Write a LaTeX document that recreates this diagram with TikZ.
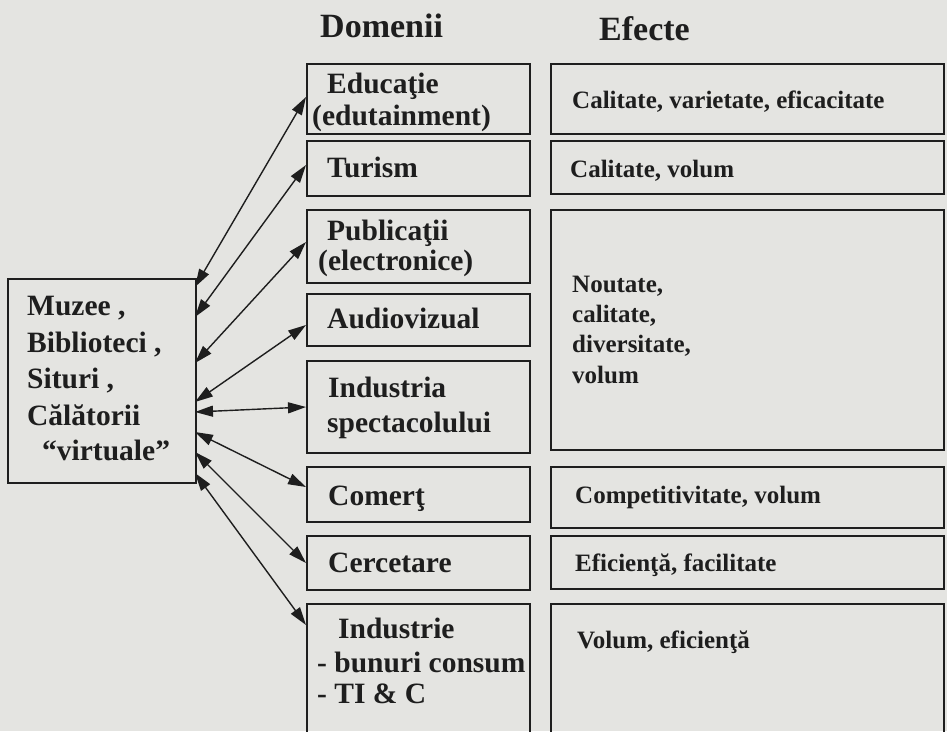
\documentclass[tikz,border=0pt]{standalone}
\usepackage{fontspec}
\setmainfont{Liberation Serif}
\usetikzlibrary{arrows.meta}
\definecolor{paper}{RGB}{228,228,225}
\definecolor{ink}{RGB}{30,30,30}
\begin{document}
\begin{tikzpicture}[x=1pt,y=-1pt,
  box/.style={draw=ink, line width=1.6pt, inner sep=0pt, anchor=north west},
  ttl/.style={anchor=base west, inner sep=0pt, text=ink, font=\bfseries\fontsize{34}{38}\selectfont},
  lft/.style={anchor=base west, inner sep=0pt, text=ink, font=\bfseries\fontsize{29.5}{34}\selectfont},
  dom/.style={anchor=base west, inner sep=0pt, text=ink, font=\bfseries\fontsize{29.5}{32}\selectfont},
  eff/.style={anchor=base west, inner sep=0pt, text=ink, font=\bfseries\fontsize{25}{28}\selectfont},
  conn/.style={draw=ink, line width=1.4pt, {Triangle[length=18pt,width=11pt]}-{Triangle[length=18pt,width=11pt]}}
]
\useasboundingbox[fill=paper] (0,0) rectangle (947,731);

% titles
\node[ttl] (tdom) at (320,37) {Domenii};
\node[ttl] (teff) at (599,40) {Efecte};

% left box
\node[box, minimum width=188pt, minimum height=204pt] (lbox) at (7,278) {};
\node[lft] (l1) at (27,315) {Muzee ,};
\node[lft] (l2) at (27,352) {Biblioteci ,};
\node[lft] (l3) at (27,388) {Situri ,};
\node[lft] (l4) at (27,425) {Călătorii};
\node[lft] (l5) at (42,460) {“virtuale”};

% domain boxes
\node[box, minimum width=223pt, minimum height=70pt] (edu) at (306,63) {};
\node[box, minimum width=223pt, minimum height=55pt] (tur) at (306,140) {};
\node[box, minimum width=223pt, minimum height=73pt] (pub) at (306,209) {};
\node[box, minimum width=223pt, minimum height=52pt] (aud) at (306,293) {};
\node[box, minimum width=223pt, minimum height=92pt] (ind) at (306,360) {};
\node[box, minimum width=223pt, minimum height=55pt] (com) at (306,466) {};
\node[box, minimum width=223pt, minimum height=54pt] (cer) at (306,535) {};
\node[box, minimum width=223pt, minimum height=145pt] (inb) at (306,603) {};

\node[dom] (d1a) at (327,93) {Educaţie};
\node[dom] (d1b) at (312,125) {(edutainment)};
\node[dom] (d2) at (327,177) {Turism};
\node[dom] (d3a) at (327,240) {Publicaţii};
\node[dom] (d3b) at (318,270) {(electronice)};
\node[dom] (d4) at (327,328) {Audiovizual};
\node[dom] (d5a) at (328,397) {Industria};
\node[dom] (d5b) at (327,432) {spectacolului};
\node[dom] (d6) at (328,505) {Comerţ};
\node[dom] (d7) at (328,572) {Cercetare};
\node[dom] (d8a) at (338,638) {Industrie};
\node[dom] (d8b) at (317,672) {- bunuri consum};
\node[dom] (d8c) at (317,703) {- TI \& C};

% effect boxes
\node[box, minimum width=393pt, minimum height=70pt] (e1) at (550,63) {};
\node[box, minimum width=393pt, minimum height=53pt] (e2) at (550,140) {};
\node[box, minimum width=393pt, minimum height=240pt] (e3) at (550,209) {};
\node[box, minimum width=393pt, minimum height=61pt] (e4) at (550,466) {};
\node[box, minimum width=393pt, minimum height=53pt] (e5) at (550,535) {};
\node[box, minimum width=393pt, minimum height=145pt] (e6) at (550,603) {};

\node[eff] (f1) at (572,108) {Calitate, varietate, eficacitate};
\node[eff] (f2) at (570,177) {Calitate, volum};
\node[eff] (f3a) at (572,292) {Noutate,};
\node[eff] (f3b) at (572,322) {calitate,};
\node[eff] (f3c) at (572,352) {diversitate,};
\node[eff] (f3d) at (572,383) {volum};
\node[eff] (f4) at (575,503) {Competitivitate, volum};
\node[eff] (f5) at (575,571) {Eficienţă, facilitate};
\node[eff] (f6) at (577,648) {Volum, eficienţă};

% connector end points
\coordinate (s1) at (195,287); \coordinate (t1) at (306,97);
\coordinate (s2) at (195,317); \coordinate (t2) at (306,165);
\coordinate (s3) at (195,363); \coordinate (t3) at (306,242);
\coordinate (s4) at (195,402); \coordinate (t4) at (306,325);
\coordinate (s5) at (195,412); \coordinate (t5) at (306,407);
\coordinate (s6) at (195,432); \coordinate (t6) at (306,487);
\coordinate (s7) at (195,452); \coordinate (t7) at (306,563);
\coordinate (s8) at (195,473); \coordinate (t8) at (306,625);

\foreach \i in {1,...,8} { \draw[conn] (s\i) -- (t\i); }
\end{tikzpicture}
\end{document}
